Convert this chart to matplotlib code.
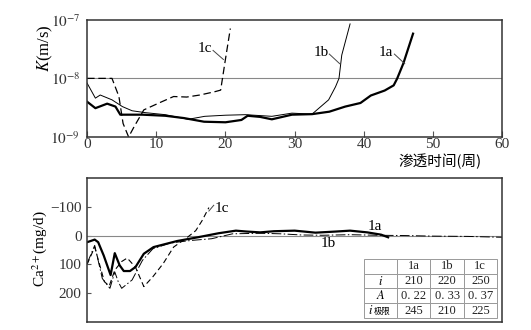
import matplotlib.pyplot as plt

plt.rcParams['font.family'] = ['Liberation Serif', 'Noto Sans CJK SC']
plt.rcParams['mathtext.fontset'] = 'stix'

# top chart: permeability K (m/s) vs seepage time (weeks)
k1a_x = [0, 1.2, 2.9, 4.1, 4.8, 8, 11.3, 14, 16.9, 20, 22.3, 23.2, 25, 26.7, 29.6,
         32.5, 35, 37.3, 39.5, 41, 43, 44.3, 44.8, 45.7, 47.1]
k1a_y = [4.0e-9, 3.1e-9, 3.7e-9, 3.3e-9, 2.4e-9, 2.4e-9, 2.3e-9, 2.1e-9, 1.82e-9, 1.78e-9,
         1.95e-9, 2.3e-9, 2.2e-9, 2.0e-9, 2.4e-9, 2.45e-9, 2.7e-9, 3.3e-9, 3.8e-9, 5.1e-9,
         6.2e-9, 7.6e-9, 9.9e-9, 1.8e-8, 5.8e-8]
k1b_x = [0, 1.2, 1.9, 3.6, 5.1, 6.5, 8.4, 11.3, 14.6, 17, 20, 22.9, 26.7, 29.6, 32.5,
         34.9, 35.9, 36.4, 36.8, 38.0]
k1b_y = [8.3e-9, 4.6e-9, 5.2e-9, 4.3e-9, 3.3e-9, 2.8e-9, 2.6e-9, 2.4e-9, 2.0e-9, 2.25e-9,
         2.35e-9, 2.4e-9, 2.25e-9, 2.55e-9, 2.45e-9, 4.3e-9, 7.2e-9, 1.0e-8, 2.5e-8, 8.5e-8]
k1c_x = [0, 3.6, 4.6, 5.2, 6.0, 6.8, 8.2, 10.6, 12.5, 14.4, 16.3, 18.4, 19.3, 20, 20.7]
k1c_y = [1.0e-8, 1.0e-8, 4.9e-9, 1.7e-9, 1.0e-9, 1.5e-9, 2.9e-9, 3.9e-9, 4.9e-9, 4.8e-9,
         5.2e-9, 5.9e-9, 6.3e-9, 2.15e-8, 7.1e-8]

# bottom chart: Ca2+ (mg/d), positive downwards
ca1a_x = [0, 0.5, 1.1, 1.6, 2.4, 3.4, 4.0, 4.7, 5.3, 6.2, 7.0, 8.2, 9.6, 13, 16, 19,
          21.5, 23, 25, 27, 30, 33, 36, 38, 40.5, 42.5, 43.5]
ca1a_y = [23, 19, 14, 23, 69, 137, 61, 103, 123, 123, 109, 63, 40, 19, 6, -8,
          -17, -14, -11, -15, -17, -10, -14, -17, -11, -3, 6]
ca1b_x = [0, 1.1, 2.2, 3.3, 4.0, 4.5, 5.0, 6.5, 8, 9.5, 12, 15, 18, 21, 25, 28, 31,
          34, 38, 42, 46, 50, 55, 60]
ca1b_y = [97, 34, 149, 183, 126, 160, 183, 154, 86, 46, 26, 17, 11, -6, -8, -6, -2,
          -1, -3, -1, 0, 2, 3, 6]
ca1c_x = [0, 1.1, 2.5, 3.2, 4.0, 5.0, 5.8, 7.0, 8.2, 9.5, 11, 12.5, 14.5, 15.7, 16.6, 17.6]
ca1c_y = [100, 40, 160, 175, 120, 90, 78, 110, 177, 143, 97, 40, 6, -17, -51, -97]

table_cols = ['1a', '1b', '1c']
table_i = ['210', '220', '250']
table_A = ['0. 22', '0. 33', '0. 37']
table_ilim = ['245', '210', '225']

fig = plt.figure(figsize=(5.31, 3.30), dpi=100)
ax1 = fig.add_axes([0.164, 0.585, 0.782, 0.355])
ax2 = fig.add_axes([0.164, 0.024, 0.782, 0.437])

frame = '#333333'
for ax in (ax1, ax2):
    for s in ax.spines.values():
        s.set_color(frame)
        s.set_linewidth(1.1)
    ax.set_xlim(0, 60)

# top chart
ax1.set_yscale('log')
ax1.set_ylim(1e-9, 1e-7)
ax1.axhline(1e-8, color='#888888', lw=0.8)
ax1.plot(k1a_x, k1a_y, color='black', lw=1.6)
ax1.plot(k1b_x, k1b_y, color='black', lw=0.7)
ax1.plot(k1c_x, k1c_y, color='black', lw=0.9, dashes=(6, 3))
ax1.set_xticks(range(0, 61, 10))
ax1.set_xticklabels([str(v) for v in range(0, 61, 10)], fontsize=11, color='#333333')
ax1.tick_params(axis='x', direction='in', length=4, pad=1, color='#555555')
ax1.set_yticks([1e-9, 1e-8, 1e-7])
ax1.set_yticklabels(['$10^{-9}$', '$10^{-8}$', '$10^{-7}$'], fontsize=11, color='#333333')
ax1.minorticks_off()
ax1.tick_params(axis='y', length=0, pad=5)

# labels, each with a short leader line to its curve
ax1.text(16.0, 3.2e-8, '1c', fontsize=11, va='center')
ax1.text(32.7, 2.8e-8, '1b', fontsize=11, va='center')
ax1.text(42.2, 2.8e-8, '1a', fontsize=11, va='center')
ax1.plot([18.2, 19.7], [3.0e-8, 2.1e-8], color='#444444', lw=0.7)
ax1.plot([35.0, 36.5], [2.6e-8, 1.78e-8], color='#444444', lw=0.7)
ax1.plot([44.4, 45.9], [2.6e-8, 1.78e-8], color='#444444', lw=0.7)

fig.text(45 / 531, 1 - 48 / 330, '$K$(m/s)', rotation=90, ha='center', va='center',
         fontsize=12)
fig.text(440 / 531, 1 - 161 / 330, '渗透时间(周)', ha='center', va='center', fontsize=10.5,
         family=['Noto Sans CJK SC', 'DejaVu Sans'])

# bottom chart
ax2.set_ylim(300, -200)
ax2.axhline(0, color='#888888', lw=0.8)
ax2.plot(ca1a_x, ca1a_y, color='black', lw=1.6)
ax2.plot(ca1b_x, ca1b_y, color='black', lw=0.7, dashes=(10, 2.5, 1.5, 2.5))
ax2.plot(ca1c_x, ca1c_y, color='black', lw=0.8, dashes=(5, 3))
ax2.set_xticks([])
ax2.set_yticks([-100, 0, 100, 200])
ax2.set_yticklabels(['\u2212100', '0', '100', '200'], fontsize=11, color='#333333')
ax2.tick_params(axis='y', direction='in', length=3, pad=4, color='#555555')

ax2.text(18.4, -95, '1c', fontsize=11, va='center')
ax2.plot([17.6, 18.3], [-85, -105], color='#444444', lw=0.7)
ax2.text(40.5, -30, '1a', fontsize=11, va='center')
ax2.text(33.8, 27, '1b', fontsize=11, va='center')

fig.text(40 / 531, 0.5 * (0.024 + 0.461) + 0.005, 'Ca$^{2+}$(mg/d)', rotation=90,
         ha='center', va='center', fontsize=11)

cells = [[''] + table_cols, [''] + table_i, [''] + table_A, [''] + table_ilim]
tb = ax2.table(cellText=cells, cellLoc='center', bbox=[0.667, 0.028, 0.32, 0.41])
tb.auto_set_font_size(False)
tb.set_fontsize(9)
for (r, c), cell in tb.get_celld().items():
    cell.set_edgecolor('#999999')
    cell.set_linewidth(0.7)
    cell.get_text().set_color('#222222')
row_h = 0.41 / 4
col0 = 0.667 + 0.32 / 8
ax2.text(col0, 0.028 + row_h * 2.5, '$i$', transform=ax2.transAxes, ha='center',
         va='center', fontsize=9)
ax2.text(col0, 0.028 + row_h * 1.5, '$A$', transform=ax2.transAxes, ha='center',
         va='center', fontsize=9)
ax2.text(col0 - 0.018, 0.028 + row_h * 0.5, '$i$', transform=ax2.transAxes, ha='right',
         va='center', fontsize=9)
ax2.text(col0 - 0.016, 0.028 + row_h * 0.5 - 0.008, '极限', transform=ax2.transAxes,
         ha='left', va='center', fontsize=6, family=['Noto Sans CJK SC', 'DejaVu Sans'])

fig.savefig('out.png', dpi=100)
